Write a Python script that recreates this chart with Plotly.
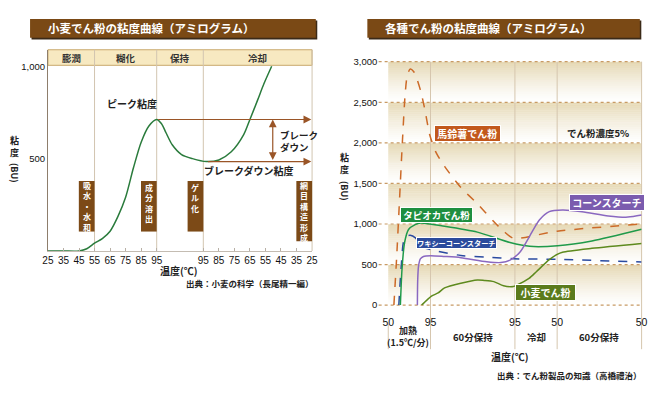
import plotly.graph_objects as go

W, H = 664, 396

# ---------------- LEFT: wheat starch amylogram ----------------
# x = stage position: 0-7 heating 25->95 C, 7-10 holding, 10-17 cooling 95->25 C
left_tick_pos = [0, 1, 2, 3, 4, 5, 6, 7, 10, 11, 12, 13, 14, 15, 16, 17]
left_tick_text = ['25', '35', '45', '55', '65', '75', '85', '95',
                  '95', '85', '75', '65', '55', '45', '35', '25']
left_stage_names = ['膨潤', '糊化', '保持', '冷却']
left_stage_edges = [0, 3, 7, 10, 17]
wheat_pos = [0, 1, 2, 2.5, 3, 3.5, 4, 4.5, 5, 5.5, 6, 6.5, 7, 7.3, 7.6, 8.0,
             8.6, 9.3, 10.2, 11.0, 11.8, 12.6, 13.0, 13.5, 13.9, 14.4]
wheat_bu = [0, 0, 0, 12, 42, 67, 107, 186, 291, 449, 589, 677, 712, 690, 640, 575,
            522, 500, 484, 493, 537, 630, 712, 818, 905, 1000]
peak_bu = 712
breakdown_bu = 484
breakdown_pos = 10.2
left_y_ticks = [500, 1000]
left_y_text = ['500', '1,000']
left_boxes = [('吸水・水和', 3), ('成分溶出', 7), ('ゲル化', 10), ('網目構造形成', 17)]

# ---------------- RIGHT: various starches (x = minutes) ----------------
right_tick_min = [0, 30, 90, 120, 180]
right_tick_text = ['50', '95', '95', '50', '50']
right_y_ticks = [0, 500, 1000, 1500, 2000, 2500, 3000]
right_y_text = ['0', '500', '1,000', '1,500', '2,000', '2,500', '3,000']

potato_t = [4.0, 6.0, 8.0, 10.0, 12.0, 13.5, 15.6, 18.0, 20.5, 23.0, 26.0, 29.6, 34.0,
            40.0, 51.6, 63.3, 75.0, 82.0, 89.0, 120.0, 180.0]
potato_bu = [0, 600, 1300, 2000, 2600, 2830, 2910, 2880, 2780, 2640, 2410, 2090, 1880,
             1710, 1450, 1250, 1030, 910, 824, 912, 1000]
tapioca_t = [8.6, 9.8, 11.6, 14.4, 19.1, 23.0, 40.0, 63.3, 86.5, 100.5, 120.3, 144.7, 180.0]
tapioca_bu = [0, 452, 772, 932, 992, 1012, 972, 900, 772, 725, 732, 792, 935]
waxy_t = [7.5, 9.1, 11.0, 13.3, 15.6, 19.1, 22.6, 24.9, 33.1, 51.6, 70.3, 88.9, 120.0, 180.0]
waxy_bu = [0, 452, 792, 852, 860, 832, 752, 712, 672, 612, 592, 572, 564, 532]
corn_t = [20.7, 20.9, 21.5, 22.8, 25.0, 30.0, 40.0, 51.6, 70.0, 80.0, 86.5, 93.5, 100.5,
          107.5, 114.4, 123.8, 137.7, 156.3, 170.3, 180.0]
corn_bu = [0, 300, 480, 570, 600, 610, 600, 585, 535, 525, 555, 652, 852,
           1052, 1152, 1172, 1152, 1100, 1085, 1110]
wheat2_t = [23.7, 30.7, 35.4, 40.0, 51.6, 63.3, 68.0, 75.0, 81.9, 88.9, 91.2, 100.0,
            105.2, 114.4, 120.0, 123.8, 144.7, 180.0]
wheat2_bu = [0, 112, 150, 212, 270, 310, 305, 290, 240, 230, 245, 330,
             412, 560, 625, 652, 700, 760]
right_stage_labels = [('加熱<br>(1.5℃/分)', 15, 340), ('60分保持', 60, 340),
                      ('冷却', 105, 340), ('60分保持', 150, 340)]

COL_POTATO = '#cc6a28'
COL_TAPIOCA = '#1f9a4a'
COL_WAXY = '#2a4aa0'
COL_CORN = '#8a68c0'
COL_WHEAT2 = '#5e8a1e'
BROWN = '#7a4915'

# ---------------- geometry helpers ----------------
L_X0, L_X1, L_YB, L_YT = 42.7, 311.7, 252.0, 45.0
L_XR = (0, 17)
L_YR = (0, (L_YB - L_YT) / 0.19)
R_X0, R_X1, R_YB, R_YT = 389.3, 647.3, 307.7, 57.3
R_XR = (0, 180)
R_YR = (0, 3000)


def px(x):
    return x / W


def py(y):
    return 1 - y / H


def lx(v):
    return L_X0 + (v - L_XR[0]) / (L_XR[1] - L_XR[0]) * (L_X1 - L_X0)


def rx(v):
    return R_X0 + (v - R_XR[0]) / (R_XR[1] - R_XR[0]) * (R_X1 - R_X0)


def ry(v):
    return R_YB - (v - R_YR[0]) / (R_YR[1] - R_YR[0]) * (R_YB - R_YT)


JP = 'Noto Sans CJK JP'
NUM = 'Liberation Sans'

fig = go.Figure()

# ---------------- traces ----------------
fig.add_trace(go.Scatter(x=wheat_pos, y=wheat_bu, mode='lines', xaxis='x', yaxis='y',
                         line=dict(color='#2a7b3c', width=1.5, shape='spline', smoothing=0.8),
                         hoverinfo='skip'))

for t, v, c, d in [(potato_t, potato_bu, COL_POTATO, 'dash'),
                   (waxy_t, waxy_bu, COL_WAXY, 'dash'),
                   (tapioca_t, tapioca_bu, COL_TAPIOCA, 'solid'),
                   (corn_t, corn_bu, COL_CORN, 'solid'),
                   (wheat2_t, wheat2_bu, COL_WHEAT2, 'solid')]:
    fig.add_trace(go.Scatter(x=t, y=v, mode='lines', xaxis='x2', yaxis='y2',
                             line=dict(color=c, width=1.5, dash=d, shape='spline', smoothing=0.7),
                             hoverinfo='skip'))

shapes = []
ann = []


def rect(x0, y0, x1, y1, fill, line=None, lw=0, layer='below'):
    shapes.append(dict(type='rect', xref='paper', yref='paper', x0=px(x0), x1=px(x1),
                       y0=py(y1), y1=py(y0), fillcolor=fill,
                       line=dict(color=line or fill, width=lw), layer=layer))


def vline(x, y0, y1, color, w=1, dash=None, layer='below'):
    shapes.append(dict(type='line', xref='paper', yref='paper', x0=px(x), x1=px(x),
                       y0=py(y0), y1=py(y1), line=dict(color=color, width=w, dash=dash), layer=layer))


def hline(x0, x1, y, color, w=1, dash=None, layer='below'):
    shapes.append(dict(type='line', xref='paper', yref='paper', x0=px(x0), x1=px(x1),
                       y0=py(y), y1=py(y), line=dict(color=color, width=w, dash=dash), layer=layer))


def text(x, y, s, size=10, color='#222', xanchor='center', bold=False, family=JP, angle=0, **kw):
    ann.append(dict(xref='paper', yref='paper', x=px(x), y=py(y), text=('<b>%s</b>' % s) if bold else s,
                    showarrow=False, xanchor=xanchor, yanchor='middle', textangle=angle,
                    font=dict(size=size, color=color, family=family), **kw))


# ---------------- title banners ----------------
rect(26, 15, 317, 34.5, '#3b2a18')
rect(24.5, 13.3, 315.5, 32.7, BROWN)
text(148, 23, '小麦でん粉の粘度曲線（アミログラム）', size=11.5, color='white', bold=True)
rect(369.5, 15, 647, 34.5, '#3b2a18')
rect(368, 13.3, 645.5, 32.7, BROWN)
text(491, 23, '各種でん粉の粘度曲線（アミログラム）', size=11.5, color='white', bold=True)

# ---------------- left panel decorations ----------------
rect(lx(0), 45, lx(17), 61, '#f7e9c1', '#c9a86c', 1)
for e in left_stage_edges[1:]:
    vline(lx(e), 45, L_YB, '#d2c5b0')
for i, name in enumerate(left_stage_names):
    mid = (left_stage_edges[i] + left_stage_edges[i + 1]) / 2
    text(lx(mid), 53.5, name, size=9.5, color='#333', bold=True)

FS_BOX = 8
for label, right_edge in left_boxes:
    xr = lx(right_edge)
    top = 180
    bottom = 242 if len(label) > 5 else 232
    rect(xr - 16, top, xr, bottom, '#7c4a17')
    n = len(label)
    cy = top + 2 + n * 1.3 * FS_BOX / 2 if n < 5 else (top + bottom) / 2
    ann.append(dict(xref='paper', yref='paper', x=px(xr - 8), y=py(cy),
                    text='<b>' + '<br>'.join(label) + '</b>', showarrow=False,
                    xanchor='center', yanchor='middle',
                    font=dict(size=FS_BOX, color='white', family=JP)))

text(128, 100, 'ピーク粘度', size=10, color='#222', bold=True)
ann.append(dict(xref='paper', yref='paper', x=px(277), y=py(138.5), text='<b>ブレーク<br>ダウン</b>',
                showarrow=False, xanchor='left', yanchor='middle', align='left',
                font=dict(size=9.5, color='#222', family=JP)))
text(247.5, 169.3, 'ブレークダウン粘度', size=10, bold=True)
text(176, 272, '温度(℃)', size=10, bold=True)
text(316, 285, '出典：小麦の科学（長尾精一編）', size=8.5, xanchor='right', bold=True)
ann.append(dict(xref='paper', yref='paper', x=px(8.5), y=py(144.5), text='<b>粘<br>度</b>',
                showarrow=False, xanchor='center', yanchor='middle',
                font=dict(size=9, color='#222', family=JP)))
text(8.5, 172, '(BU)', size=9, bold=True, angle=90)

# arrows (left)
ARROW = '#9a5527'
for yv, xs in [(peak_bu, 7), (breakdown_bu, breakdown_pos)]:
    ann.append(dict(xref='x', yref='y', axref='x', ayref='y', x=16.95, y=yv, ax=xs, ay=yv,
                    text='', showarrow=True, arrowhead=2, arrowsize=1.3, arrowwidth=1.2,
                    arrowcolor=ARROW, standoff=0, startstandoff=0))
ann.append(dict(xref='x', yref='y', axref='x', ayref='y', x=14.47, y=peak_bu, ax=14.47,
                ay=breakdown_bu, text='', showarrow=True, arrowhead=2, arrowsize=1.3,
                arrowwidth=1.2, arrowcolor=ARROW, arrowside='end+start', standoff=0, startstandoff=0))

# ---------------- right panel decorations ----------------
TAN = (229, 216, 180)
n_slices = 20
for b in range(6):
    lo = b * 500
    for k in range(n_slices):
        y0v = lo + k * 500 / n_slices
        y1v = lo + (k + 1) * 500 / n_slices
        f = ((k + 0.5) / n_slices) ** 1.3
        c = tuple(int(round(255 + (t - 255) * f)) for t in TAN)
        rect(R_X0, ry(y1v), R_X1, ry(y0v) + 0.3, 'rgb(%d,%d,%d)' % c)

for v in right_y_ticks:
    hline(379.5, R_X1, ry(v), '#c89a64', 1.2, 'dot')
for v in right_tick_min[1:4]:
    vline(rx(v), R_YT, 353, '#d6c6ae')
vline(rx(180), R_YT, 353, '#d6c6ae')
vline(rx(0), 327, 353, '#d6c6ae')

ann.append(dict(xref='paper', yref='paper', x=px(345), y=py(162), text='<b>粘<br>度</b>',
                showarrow=False, xanchor='center', yanchor='middle',
                font=dict(size=9, color='#222', family=JP)))
text(345, 190, '(BU)', size=9, bold=True, angle=90)

for s, tm, yy in right_stage_labels:
    text(rx(tm) - (1 if '<br>' in s else 0), yy, s, size=9 if '<br>' in s else 9.5,
         color='#222', bold=True)
text(513.5, 360.7, '温度(℃)', size=10, bold=True)
text(650, 379.3, '出典：でん粉製品の知識（高橋禮治）', size=8.5, xanchor='right', bold=True)
text(603, 131, 'でん粉濃度5%', size=9.5, bold=True)


def label_box(x, y, s, bg, size=10):
    ann.append(dict(xref='paper', yref='paper', x=px(x), y=py(y), text='<b>%s</b>' % s,
                    showarrow=False, xanchor='center', yanchor='middle', bgcolor=bg,
                    bordercolor='white', borderwidth=1, borderpad=0,
                    font=dict(size=size, color='white', family=JP)))


label_box(470, 131.5, '&nbsp;馬鈴薯でん粉&nbsp;', '#c2581c')
label_box(612.5, 202.5, '&nbsp;コーンスターチ&nbsp;', '#7b5cae')
label_box(438, 215.3, '&nbsp;タピオカでん粉&nbsp;', '#1e8f40', size=9.5)
label_box(458.3, 243.5, 'ワキシーコーンスターチ', '#2b4b9c', size=7.2)
label_box(549, 295, '&nbsp;&nbsp;小麦でん粉&nbsp;&nbsp;', '#5b7b1c')

fig.update_layout(
    width=W, height=H, margin=dict(l=0, r=0, t=0, b=0),
    paper_bgcolor='white', plot_bgcolor='rgba(0,0,0,0)', showlegend=False,
    font=dict(family=JP, color='#222'),
    xaxis=dict(domain=[px(L_X0), px(L_X1)], range=list(L_XR), anchor='y',
               tickmode='array', tickvals=left_tick_pos, ticktext=left_tick_text,
               showline=True, linecolor='#c4bcb2', linewidth=1, ticks='inside', ticklen=3,
               tickcolor='#b8b0a6', showgrid=False, zeroline=False,
               tickfont=dict(family=NUM, size=10, color='#111')),
    yaxis=dict(domain=[py(L_YB), py(L_YT)], range=list(L_YR), anchor='x',
               tickmode='array', tickvals=left_y_ticks, ticktext=left_y_text,
               showline=True, linecolor='#8e7e6c', linewidth=1, ticks='', showgrid=False,
               zeroline=False, tickfont=dict(family=NUM, size=9.5, color='#111')),
    xaxis2=dict(domain=[px(R_X0), px(R_X1)], range=list(R_XR), anchor='y2',
                tickmode='array', tickvals=right_tick_min, ticktext=right_tick_text,
                showline=False, ticks='outside', ticklen=7, tickcolor='rgba(0,0,0,0)',
                showgrid=False, zeroline=False,
                tickfont=dict(family=NUM, size=10.5, color='#111')),
    yaxis2=dict(domain=[py(R_YB), py(R_YT)], range=list(R_YR), anchor='x2',
                tickmode='array', tickvals=right_y_ticks, ticktext=right_y_text,
                showline=False, ticks='outside', ticklen=8, tickcolor='rgba(0,0,0,0)',
                showgrid=False, zeroline=False,
                tickfont=dict(family=NUM, size=9.5, color='#111')),
    shapes=shapes, annotations=ann,
)

fig.write_html('out.html', config={'displayModeBar': False, 'staticPlot': True},
               post_script="document.body.style.margin='0px';document.body.style.padding='0px';")
